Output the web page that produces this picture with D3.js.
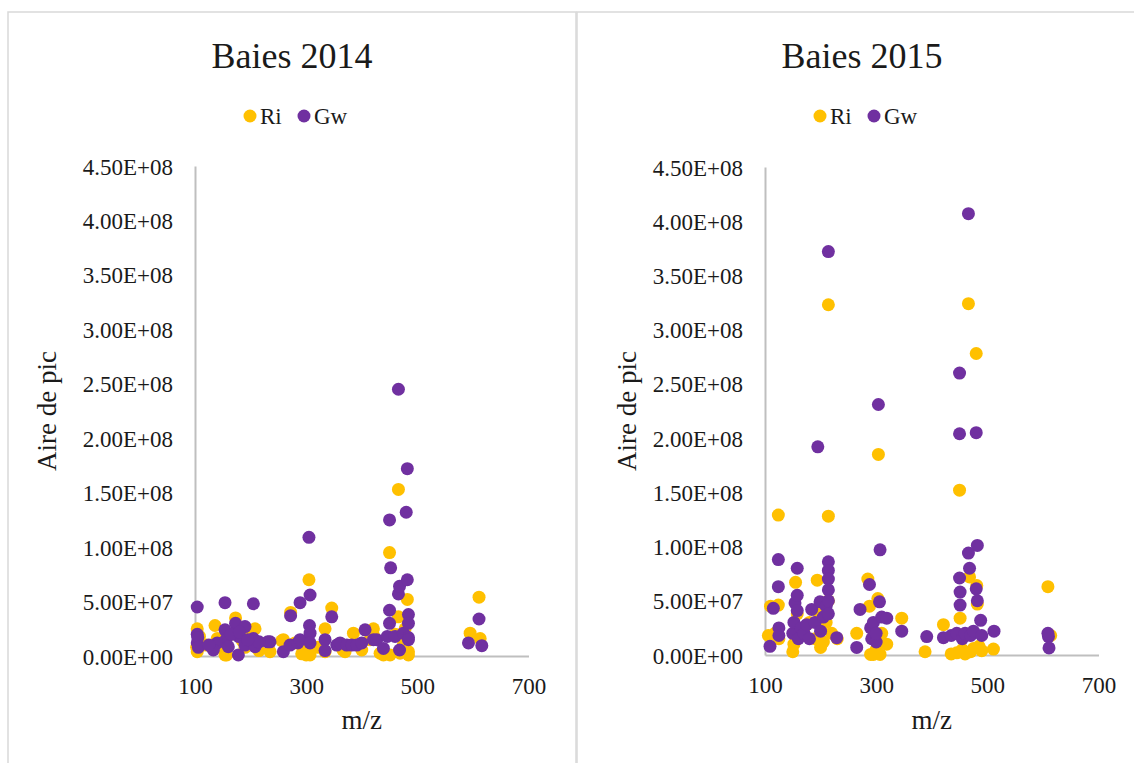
<!DOCTYPE html>
<html>
<head>
<meta charset="utf-8">
<script src="https://cdn.jsdelivr.net/npm/d3@7"></script>
<style>
    body { margin: 0; background: #fff; }
    svg text { font-family: "Times New Roman", "Liberation Serif", Times, "DejaVu Serif", serif; fill: #1a1a1a; }
</style>
</head>
<body>
<script>

// tick labels and series names
let xTicks = [100, 300, 500, 700];
let yTicks = [0, 5e7, 1e8, 1.5e8, 2e8, 2.5e8, 3e8, 3.5e8, 4e8, 4.5e8];
let seriesNames = ["Ri", "Gw"];
let titles = ["Baies 2014", "Baies 2015"];

// [m/z, aire de pic in millions]
let ri2014 = [[104,25],[104,4],[103,8],[108,18],[136,28],[140,16],[154,1],[157,1],[173,35],[208,25],[200,20],[190,8],
    [185,14],[165,20],[259,15],[256,14],[235,4],[272,40],[292,2],[300,1],[307,1],[305,70],[300,10],[334,25],[334,4],
    [346,44],[366,5.5],[370,4],[385,21],[400,5.5],[421,25],[421,19],[433,2.5],[439,1],[450,95],[451,1],[466,153],
    [466,36],[469,2.5],[482,52],[484,4],[484,1],[475,10],[595,21],[613,16],[611,54],[120,10],[145,8],[215,5],
    [280,12],[320,8],[415,15],[460,20],[478,25]];

let gw2014 = [[104,45],[104,20],[104,12],[105,17],[106,8],[154,49],[205,48],[173,30],[154,24],[190,27],[205,16],
    [178,18],[156,15],[140,12],[133,5.5],[178,1],[160,8.5],[190,10],[208,8.5],[235,13],[259,4],[231,13],[271,10],
    [285,12],[289,15],[272,37],[289,49],[305,109],[307,56],[306,28],[307,21],[307,12],[334,15],[334,5],[346,36],
    [355,10],[361,12],[373,10],[382,10],[391,10],[400,12],[406,24],[421,15],[427,15],[439,7],[446,18],[450,42],
    [450,30],[450,125],[452,81],[460,18],[466,245],[466,57],[468,64],[468,5.5],[475,21],[480,132],[482,172],
    [482,70],[484,38],[484,30],[484,17],[484,15],[592,12],[611,34],[616,9.5],[165,20],[180,22],[125,10],[215,13],
    [195,15]];

let ri2015 = [[106,18],[110,45],[124,129],[124,46],[125,15],[118,20],[150,3],[152,10],[155,67],[158,38],[160,25],
    [170,20],[180,30],[190,15],[194,69],[195,40],[200,7],[205,12],[210,30],[214,323],[214,128],[214,50],[220,20],
    [230,15],[265,20],[285,70],[288,45],[290,0.5],[295,0.5],[300,5],[303,52],[304,185],[307,0.5],[310,20],[319,10],
    [346,34],[388,3],[421,28],[435,1],[445,2],[450,152],[451,34],[455,5],[460,1],[466,324],[468,72],[470,3],
    [475,6],[480,278],[481,64],[482,47],[485,8],[490,4],[511,5.5],[609,63],[614,18]];

let gw2015 = [[109,8],[115,43],[124,88],[124,63],[125,25],[125,18],[150,20],[152,30],[154,48],[158,80],[158,55],
    [158,41],[160,15],[165,25],[170,20],[175,28],[180,15],[184,42],[190,30],[195,192],[199,49],[200,22],[205,35],
    [210,45],[214,372],[214,86],[214,78],[214,70],[214,60],[214,50],[214,38],[229,16],[265,7],[271,42],[288,65],
    [290,25],[292,15],[295,30],[300,12],[300,20],[304,231],[306,49],[307,97],[310,35],[319,34],[346,22],[391,17],
    [421,16],[435,18],[445,20],[450,260],[450,204],[450,71],[451,58],[451,46],[455,15],[460,20],[466,407],[466,94],
    [468,80],[470,18],[475,22],[480,205],[480,61],[482,101],[482,50],[488,32],[490,18],[512,22],[610,17],[611,6.5],
    [609,20]];

let colors = {"Ri": "#FFC000", "Gw": "#7030A0"};
let serif = "'Times New Roman', 'Liberation Serif', Times, 'DejaVu Serif', serif";

let svg = d3.select("body").append("svg")
    .attr("width", 1134)
    .attr("height", 763)
    .attr("font-family", serif);

/**
 * Draws one chart panel
 */
function drawPanel(p) {

    let g = svg.append("g");

    //frame
    g.append("rect")
        .attr("x", p.left).attr("y", 12)
        .attr("width", 568).attr("height", 770)
        .attr("fill", "none")
        .attr("stroke", "#d9d9d9")
        .attr("stroke-width", 1.5);

    let x = d3.scaleLinear().domain([100, 700]).range(p.xRange);
    let y = d3.scaleLinear().domain([0, 4.5e8]).range(p.yRange);

    //title
    g.append("text")
        .attr("x", p.center).attr("y", 68)
        .attr("text-anchor", "middle")
        .attr("font-family", serif)
        .style("font-size", "36px")
        .text(p.title);

    //legend
    let leg = g.selectAll(".leg").data(seriesNames).enter().append("g")
        .attr("transform", function(d, i){ return "translate(" + (p.center - 42 + i*54) + ",116)"; });
    leg.append("circle").attr("r", 6.5).attr("fill", function(d){ return colors[d]; });
    leg.append("text").attr("x", 10).attr("y", 8)
        .attr("font-family", serif)
        .style("font-size", "23px").text(function(d){ return d; });

    //axes
    let yAxis = g.append("g")
        .attr("transform", "translate(" + p.xRange[0] + ",0)")
        .call(d3.axisLeft(y).tickValues(yTicks).tickSize(0).tickPadding(22)
            .tickFormat(function(d){ return d.toExponential(2).toUpperCase().replace(/E([+-])(\d)$/, "E$10$2"); }));

    let xAxis = g.append("g")
        .attr("transform", "translate(0," + p.yRange[0] + ")")
        .call(d3.axisBottom(x).tickValues(xTicks).tickSize(0).tickPadding(22));

    yAxis.attr("font-family", serif).attr("font-size", 23);
    xAxis.attr("font-family", serif).attr("font-size", 23);
    g.selectAll(".domain").attr("stroke", "#bfbfbf").attr("stroke-width", 2);
    g.selectAll(".tick text").attr("fill", "#1a1a1a");
    yAxis.selectAll(".tick text").attr("dy", "0.35em");

    //axis titles
    g.append("text")
        .attr("x", (p.xRange[0] + p.xRange[1]) / 2).attr("y", 729)
        .attr("text-anchor", "middle")
        .attr("font-family", serif)
        .style("font-size", "27px")
        .text("m/z");

    g.append("text")
        .attr("transform", "translate(" + p.yTitleX + "," + ((p.yRange[0] + p.yRange[1]) / 2) + ") rotate(-90)")
        .attr("text-anchor", "middle")
        .attr("dy", "0.35em")
        .attr("font-family", serif)
        .style("font-size", "27px")
        .text("Aire de pic");

    //points, Ri first so Gw sits on top
    let series = [["Ri", p.ri], ["Gw", p.gw]];
    for(let i = 0; i < series.length; i++) {
        g.append("g").selectAll("circle")
            .data(series[i][1]).enter().append("circle")
            .attr("cx", function(d){ return x(d[0]); })
            .attr("cy", function(d){ return y(d[1] * 1e6); })
            .attr("r", 6.5)
            .attr("fill", colors[series[i][0]]);
    }
}

drawPanel({left: 8, center: 292, title: titles[0], xRange: [195, 528.5], yRange: [656, 166], yTitleX: 47, ri: ri2014, gw: gw2014});
drawPanel({left: 577, center: 862, title: titles[1], xRange: [765, 1098.5], yRange: [655, 167], yTitleX: 627, ri: ri2015, gw: gw2015});

</script>
</body>
</html>
